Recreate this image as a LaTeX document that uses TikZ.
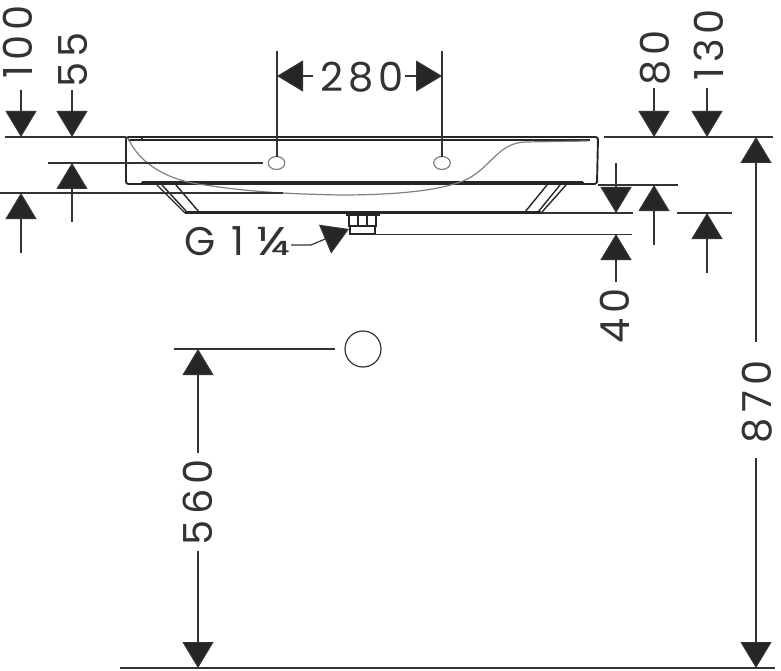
\documentclass[tikz,border=0pt]{standalone}
\usepackage{fontspec}
\setmainfont{Poppins}[LetterSpace=13]
\usetikzlibrary{arrows.meta}
\definecolor{inkdark}{HTML}{333333}
\definecolor{basingray}{HTML}{808080}
\begin{document}
\begin{tikzpicture}[x=1pt,y=-1pt,
	dimline/.style={draw=inkdark,line width=1.2pt},
	dimarrow/.style={dimline,-{Triangle[width=31pt,length=26pt,fill=black!85]}},
	basinline/.style={draw=black!85,line width=1.4pt},
	basincurve/.style={draw=basingray,line width=1.2pt},
	dimlabel/.style={text=inkdark,inner sep=0pt,font=\fontsize{40}{40}\selectfont},
	vertlabel/.style={dimlabel,rotate=90}]
	\useasboundingbox (0,0) rectangle (781,671);
	
	\draw[basinline,line width=1.9pt,rounded corners=2.5pt](126,137)--(598,137)--(597,184)--(126,184)--cycle;
	\draw[basinline](128,140)--(590,140);
	\draw[basinline](142,182)--(583,182);
	\draw[basinline](142,137)--(142,140);
	\draw[basinline](142,182)--(142,184);
	\draw[basinline](583,182)--(583,184);
	\draw[basincurve](128,138) .. controls (140,165) and (170,181) .. (205,185) .. controls (250,192) and (290,194) .. (340,195) .. controls (400,195) and (440,190) .. (463,181) .. controls (490,170) and (497,143) .. (525,142)--(588,141);
	
	\draw[basinline](157,185)--(185,213);
	\draw[basinline](162,185)--(186,211);
	\draw[basinline](176,185)--(199,212);
	\draw[basinline](547,185)--(525,212);
	\draw[basinline](560,185)--(538,212);
	\draw[basinline](566,185)--(542,212);
	\draw[basinline,line width=2.2pt](185,212.5)--(541,212.5);
	
	\draw[basinline,line width=2pt](346,214.5)--(380,214.5);
	\draw[basinline](349,215)--(349,226)--(376,226)--(376,215);
	\draw[basinline](358,215)--(358,226);
	\draw[basinline](367,215)--(367,226);
	\draw[basinline](350,226)--(350,234)--(375,234)--(375,226);
	
	\draw[basincurve](276.5,163) ellipse [x radius=8.3pt,y radius=6.5pt];
	\draw[basincurve](442,163) ellipse [x radius=8.3pt,y radius=6.5pt];
	\draw[dimline](363,349) circle [radius=18pt];
	
	\draw[dimline](5,137)--(126,137);
	\draw[dimline](48,163)--(263,163);
	\draw[dimline](0,193)--(283,193);
	\draw[dimline](604,137)--(773,137);
	\draw[dimline](598,185)--(678,185);
	\draw[dimline](541,213)--(633,213);
	\draw[dimline](677,213)--(732,213);
	\draw[dimline,line width=1pt](375,234)--(632,234);
	\draw[dimline](174,349)--(335,349);
	\draw[dimline](120,668)--(775,668);
	\draw[dimline](277,51)--(277,157);
	\draw[dimline](442,51)--(442,157);
	
	\node[dimlabel] (dimtwoeighty) at (362,77) {280};
	\draw[dimarrow](313,76)--(277,76);
	\draw[dimarrow](405,76)--(442,76);
	
	\node[vertlabel] (dimhundred) at (18,42) {100};
	\draw[dimarrow](21,90)--(21,137);
	\draw[dimarrow](21,253)--(21,193);
	
	\node[vertlabel] (dimfiftyfive) at (73,60) {55};
	\draw[dimarrow](72,90)--(72,137);
	\draw[dimarrow](72,222)--(72,163);
	
	\node[vertlabel] (dimeighty) at (655,58) {80};
	\draw[dimarrow](654,88)--(654,137);
	\draw[dimarrow](654,245)--(654,185);
	
	\node[vertlabel] (dimonethirty) at (709,45) {130};
	\draw[dimarrow](707,88)--(707,137);
	\draw[dimarrow](707,273)--(707,213);
	
	\node[vertlabel] (dimforty) at (615,316) {40};
	\draw[dimarrow](616,163)--(616,213);
	\draw[dimarrow](616,282)--(616,234);
	
	\node[vertlabel] (dimeightseventy) at (757,402) {870};
	\draw[dimarrow](756,342)--(756,137);
	\draw[dimarrow](756,458)--(756,668);
	
	\node[vertlabel] (dimfivesixty) at (198,502) {560};
	\draw[dimarrow](198,453)--(198,349);
	\draw[dimarrow](198,551)--(198,668);
	
	\node[dimlabel,anchor=base west] (threadlabel) at (184,255) {G 1\hspace{-3pt} \scalebox{1.35}[1]{¼}};
	\draw[dimarrow](291,245)--(311,245)--(349,229);
	
\end{tikzpicture}
\end{document}
